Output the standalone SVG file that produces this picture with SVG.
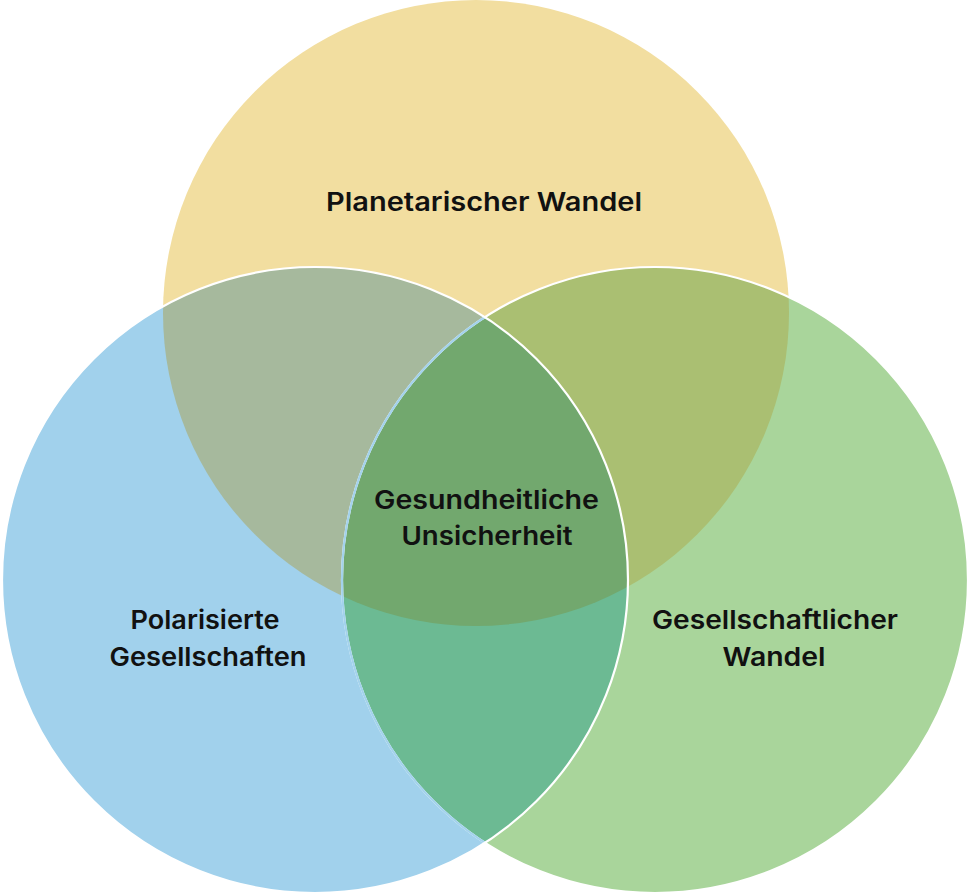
<svg xmlns="http://www.w3.org/2000/svg" width="970" height="896" viewBox="0 0 970 896">
<style>
.lbl{font-family:Inter,"Open Sans","Liberation Sans",sans-serif;font-weight:600;font-size:26px;fill:#111;text-anchor:middle}
.edge{fill:none;stroke:#ffffff;stroke-width:2.2}
</style>
<defs>
<clipPath id="cY"><circle cx="476" cy="313" r="313"/></clipPath>
<clipPath id="cB"><circle cx="315" cy="580" r="313"/></clipPath>
<clipPath id="cG"><circle cx="655" cy="580" r="313"/></clipPath>
</defs>
<rect width="970" height="896" fill="#ffffff"/>
<g id="planetarischer-wandel">
<circle cx="476" cy="313" r="313" fill="#F2DEA0"/>
</g>
<g id="polarisierte-gesellschaften">
<circle cx="315" cy="580" r="313" fill="#A1D1EC"/>
</g>
<g id="gesellschaftlicher-wandel">
<circle cx="655" cy="580" r="313" fill="#A9D59B"/>
</g>
<g id="overlaps">
<circle cx="315" cy="580" r="313" fill="#A6B99D" clip-path="url(#cY)"/>
<circle cx="655" cy="580" r="313" fill="#AABF72" clip-path="url(#cY)"/>
<circle cx="655" cy="580" r="313" fill="#6CBA93" clip-path="url(#cB)"/>
<g clip-path="url(#cY)"><circle cx="655" cy="580" r="313" fill="#72A86E" clip-path="url(#cB)"/></g>
</g>
<g id="connectors">
<circle class="edge" cx="655" cy="580" r="313"/>
<circle cx="655" cy="580" r="313" fill="none" stroke="#A3D2EC" stroke-width="2.2" clip-path="url(#cB)"/>
<circle class="edge" cx="315" cy="580" r="313"/>
</g>
<g id="labels">
<text class="lbl" x="484" y="211" textLength="316" lengthAdjust="spacingAndGlyphs">Planetarischer Wandel</text>
<text class="lbl" x="486.5" y="509" textLength="225" lengthAdjust="spacingAndGlyphs">Gesundheitliche</text>
<text class="lbl" x="487" y="545" textLength="171" lengthAdjust="spacingAndGlyphs">Unsicherheit</text>
<text class="lbl" x="205" y="629" textLength="149" lengthAdjust="spacingAndGlyphs">Polarisierte</text>
<text class="lbl" x="208" y="666" textLength="197" lengthAdjust="spacingAndGlyphs">Gesellschaften</text>
<text class="lbl" x="775" y="629" textLength="246" lengthAdjust="spacingAndGlyphs">Gesellschaftlicher</text>
<text class="lbl" x="774" y="666" textLength="103" lengthAdjust="spacingAndGlyphs">Wandel</text>
</g>
</svg>
